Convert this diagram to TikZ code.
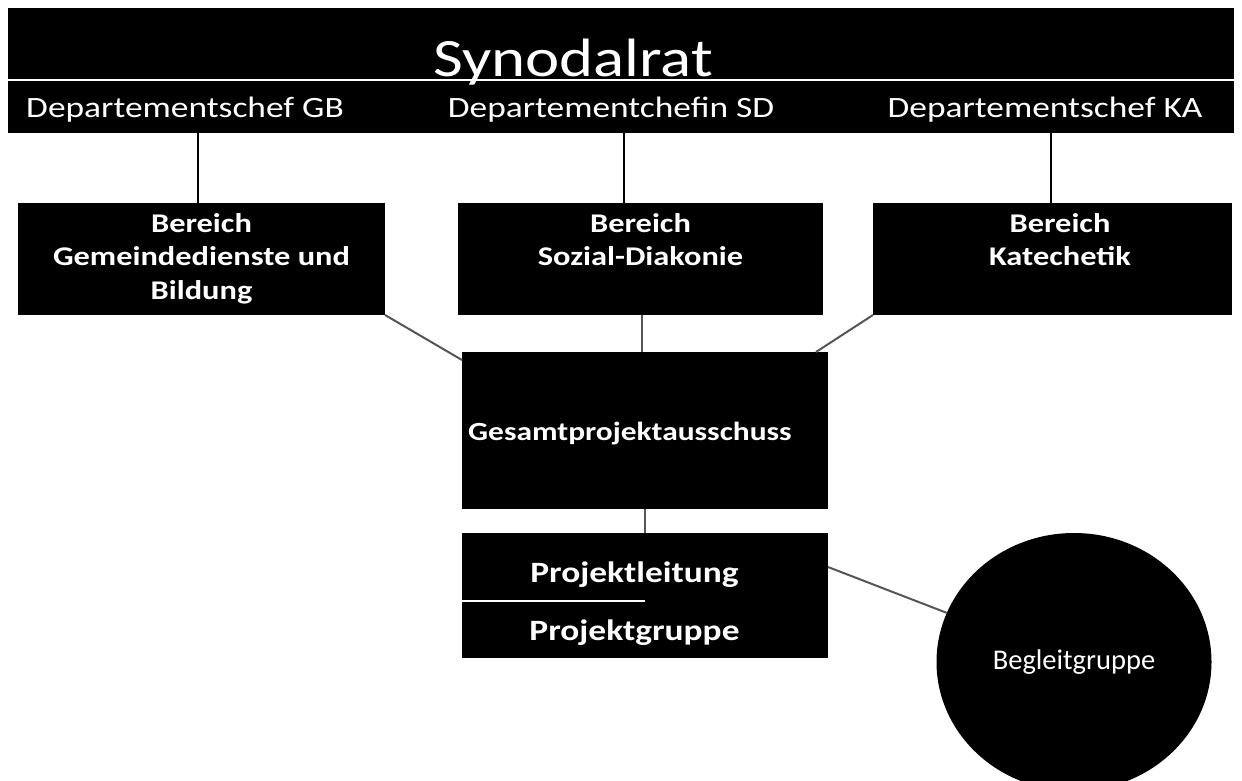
\documentclass[tikz,border=0pt]{standalone}
\usepackage{fontspec}
\setmainfont{Carlito}[FakeStretch=1.2]
\newfontfamily\plainfont{Carlito}
\usetikzlibrary{shapes.geometric,calc}
\definecolor{linkgray}{RGB}{85,85,85}
\begin{document}
\begin{tikzpicture}[x=1pt,y=-1pt,
  blk/.style={fill=black,draw=none,text=white,inner sep=0pt,outer sep=0pt},
  wtxt/.style={text=white,inner sep=0pt},
  boxtxt/.style={wtxt,font=\bfseries\fontsize{27}{33.5}\selectfont,align=center,anchor=north},
  depttxt/.style={wtxt,font=\fontsize{29.5}{34}\selectfont,anchor=base},
  conn/.style={line width=2.5pt,black},
  link/.style={line width=2pt,linkgray}]
\useasboundingbox (0,0) rectangle (1242,781);
\clip (0,0) rectangle (1242,781);

% top bar
\node[blk,minimum width=1226pt,minimum height=72pt] (syn) at (621,44) {};
\node[blk,minimum width=1226pt,minimum height=52pt] (dept) at (621,107) {};
\draw[white,line width=1.5pt] (syn.south west) -- (syn.south east);
\node[wtxt,anchor=base,font=\fontsize{54}{60}\selectfont] (syntxt) at (573,77) {Synodalrat};
\node[depttxt] (gbtxt) at (185,118) {Departementschef GB};
\node[depttxt] (sdtxt) at (611,118) {Departementchefin SD};
\node[depttxt] (katxt) at (1045,118) {Departementschef KA};

% Bereich boxes
\node[blk,minimum width=367pt,minimum height=112pt] (gbbox) at (201.5,259) {};
\node[blk,minimum width=365pt,minimum height=112pt] (sdbox) at (640.5,259) {};
\node[blk,minimum width=359pt,minimum height=112pt] (kabox) at (1052.5,259) {};
\node[boxtxt] (gbbt) at (201.5,213) {Bereich\\Gemeindedienste und\\Bildung};
\node[boxtxt] (sdbt) at (640.5,213) {Bereich\\Sozial-Diakonie};
\node[boxtxt] (kabt) at (1060,213) {Bereich\\Katechetik};

% Gesamtprojektausschuss
\node[blk,minimum width=366pt,minimum height=157pt] (gesamt) at (645,430.5) {};
\node[wtxt,anchor=base west,font=\bfseries\fontsize{26.2}{32}\selectfont] (gestxt) at (468,440) {Gesamtprojektausschuss};

% Projektleitung / Projektgruppe
\node[blk,minimum width=366pt,minimum height=68pt] (pl) at (645,567) {};
\node[blk,minimum width=366pt,minimum height=57pt] (pg) at (645,629.5) {};
\draw[white,line width=1.2pt] (pl.south west) -- ($(pl.south west)!0.5!(pl.south east)$);
\node[wtxt,anchor=base,font=\bfseries\fontsize{29.5}{34}\selectfont] (pltxt) at (634.5,582) {Projektleitung};
\node[wtxt,anchor=base,font=\bfseries\fontsize{29.5}{34}\selectfont] (pgtxt) at (634.5,640) {Projektgruppe};

% Begleitgruppe
\node[ellipse,fill=black,text=white,inner sep=0pt,minimum width=275pt,minimum height=258pt,
      font=\plainfont\fontsize{28.5}{32}\selectfont] (begl) at (1074,662) {Begleitgruppe};

% connectors
\draw[conn] ([xshift=-3.5pt]gbbox.north) -- ([xshift=-3.5pt]gbbox.north |- dept.south);
\draw[conn] ([xshift=-16.5pt]sdbox.north) -- ([xshift=-16.5pt]sdbox.north |- dept.south);
\draw[conn] ([xshift=-1.5pt]kabox.north) -- ([xshift=-1.5pt]kabox.north |- dept.south);
\draw[link] (gbbox.south east) -- ([yshift=-8pt]gesamt.north west);
\draw[link] ([xshift=1.5pt]sdbox.south) -- ([xshift=1.5pt]sdbox.south |- gesamt.north);
\draw[link] (kabox.south west) -- ([xshift=-12pt]gesamt.north east);
\draw[link] (gesamt.south) -- (pl.north);
\draw[link] (pl.east) -- (begl);
\end{tikzpicture}
\end{document}
